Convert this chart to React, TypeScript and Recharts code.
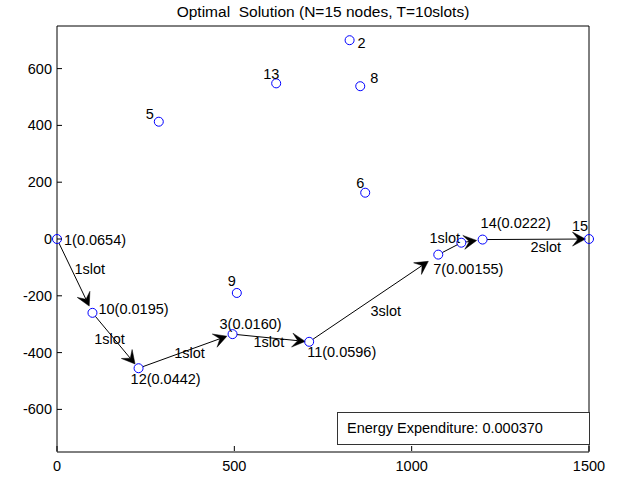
import React from 'react';
import { ScatterChart, Scatter, XAxis, YAxis, ReferenceLine } from 'recharts';

const FONT = '"Liberation Sans", Arial, Helvetica, sans-serif';

// ---- data ----
const nodeIds = [1, 2, 3, 4, 5, 6, 7, 8, 9, 10, 11, 12, 13, 14, 15];
const nodeX = [0, 825, 495, 1140, 287, 869, 1075, 855, 507, 100, 711, 230, 618, 1200, 1500];
const nodeY = [0, 700, -335, -13, 413, 163, -55, 538, -190, -260, -362, -455, 548, -2, 0];
const nodeLabels = [
  '1(0.0654)', '2', '3(0.0160)', '', '5', '6', '7(0.00155)', '8', '9',
  '10(0.0195)', '11(0.0596)', '12(0.0442)', '13', '14(0.0222)', '15',
];
const pathOrder = [1, 10, 12, 3, 11, 7, 4, 14, 15];
const slotLabels = ['1slot', '1slot', '1slot', '1slot', '3slot', '1slot', '', '2slot'];
const xTicks = [0, 500, 1000, 1500];
const yTicks = [-600, -400, -200, 0, 200, 400, 600];
const titleText = 'Optimal  Solution (N=15 nodes, T=10slots)';
const energyText = 'Energy Expenditure: 0.000370';

// ---- styling (pixel offsets for text placement) ----
const labelOffset: Record<number, [number, number]> = {
  1: [7, 1], 2: [8, 3], 3: [-13, -10], 4: [0, 0], 5: [-13, -8], 6: [-9, -10],
  7: [-5, 14], 8: [10, -8], 9: [-9, -12], 10: [6, -4], 11: [-2, 10],
  12: [-8, 11], 13: [-13, -9], 14: [-2, -17], 15: [-17, -13],
};
const hasHead = [true, true, true, true, true, false, true, true];
const endGap = [7.5, 5.5, 6, 4, 12, 4, 6, 3.5];
const slotOffset: [number, number][] = [
  [15, -7], [-6, -2], [4, 2], [-2, 4], [12, 13], [-5, -11], [0, 0], [10, 8],
];

const nodes = nodeIds.map((id, i) => ({ id, x: nodeX[i], y: nodeY[i], label: nodeLabels[i] }));
const byId: Record<number, { x: number; y: number }> = {};
nodes.forEach((n) => (byId[n.id] = n));
const segments = pathOrder.slice(0, -1).map((from, i) => ({
  from: byId[from],
  to: byId[pathOrder[i + 1]],
  label: slotLabels[i],
}));

const textStyle = { fontFamily: FONT, fontSize: 14.5, fill: '#000' } as const;

const NodeShape = (p: any) => {
  const { cx, cy, payload } = p;
  const off = labelOffset[payload.id] || [6, 0];
  return (
    <g>
      <circle cx={cx} cy={cy} r={4.5} fill="none" stroke="#0000ff" strokeWidth={1} />
      {payload.label ? (
        <text x={cx + off[0]} y={cy + off[1] + 5} {...textStyle}>
          {payload.label}
        </text>
      ) : null}
    </g>
  );
};

const makeArrow = (i: number, label: string) => (p: any) => {
  const x1 = Number(p.x1), y1 = Number(p.y1), x2 = Number(p.x2), y2 = Number(p.y2);
  const dx = x2 - x1, dy = y2 - y1;
  const len = Math.hypot(dx, dy) || 1;
  const ux = dx / len, uy = dy / len;
  const nx = -uy, ny = ux;
  const sx = x1 + ux * 4.5, sy = y1 + uy * 4.5;
  const tx = x2 - ux * endGap[i], ty = y2 - uy * endGap[i];
  const L = 13, W = 7, notch = 7.5;
  const bx = tx - ux * L, by = ty - uy * L;
  const pts = [
    [tx, ty],
    [bx + nx * W, by + ny * W],
    [tx - ux * notch, ty - uy * notch],
    [bx - nx * W, by - ny * W],
  ]
    .map((q) => q.join(','))
    .join(' ');
  const ex = hasHead[i] ? tx - ux * notch : tx;
  const ey = hasHead[i] ? ty - uy * notch : ty;
  const mx = (x1 + x2) / 2 + slotOffset[i][0];
  const my = (y1 + y2) / 2 + slotOffset[i][1];
  return (
    <g>
      <line x1={sx} y1={sy} x2={ex} y2={ey} stroke="#000" strokeWidth={1} />
      {hasHead[i] ? <polygon points={pts} fill="#000" stroke="#000" strokeWidth={0.5} /> : null}
      {label ? (
        <text x={mx} y={my + 5} textAnchor="middle" {...textStyle}>
          {label}
        </text>
      ) : null}
    </g>
  );
};

const BottomTick = (p: any) => {
  const { x, payload } = p;
  const y = Number(p.y) - 1;
  return (
    <g>
      <line x1={x} y1={y} x2={x} y2={y - 5} stroke="#000" />
      <text x={x} y={y + 20} textAnchor="middle" {...textStyle}>
        {payload.value}
      </text>
    </g>
  );
};
const TopTick = (p: any) => {
  const { x, y } = p;
  return <line x1={x} y1={y} x2={x} y2={Number(y) + 5} stroke="#000" />;
};
const LeftTick = (p: any) => {
  const { x, y, payload } = p;
  return (
    <g>
      <line x1={x} y1={y} x2={Number(x) + 5} y2={y} stroke="#000" />
      <text x={Number(x) - 5} y={Number(y) + 5} textAnchor="end" {...textStyle}>
        {payload.value}
      </text>
    </g>
  );
};
const RightTick = (p: any) => {
  const { x, y } = p;
  return <line x1={x} y1={y} x2={Number(x) - 5} y2={y} stroke="#000" />;
};

export default function App() {
  return (
    <div style={{ position: 'absolute', left: 0, top: 0, width: 632, height: 481, background: '#fff' }}>
      <ScatterChart width={632} height={481} margin={{ top: 25, right: 42, bottom: 28, left: 56 }}>
        <XAxis
          dataKey="x"
          type="number"
          domain={[0, 1500]}
          ticks={xTicks}
          interval={0}
          height={1}
          tickSize={0}
          tickMargin={0}
          tickLine={false}
          axisLine={{ stroke: '#000' }}
          tick={<BottomTick />}
        />
        <XAxis
          xAxisId="top"
          orientation="top"
          type="number"
          domain={[0, 1500]}
          ticks={xTicks}
          interval={0}
          height={1}
          tickSize={0}
          tickMargin={0}
          tickLine={false}
          axisLine={{ stroke: '#000' }}
          tick={<TopTick />}
        />
        <YAxis
          dataKey="y"
          type="number"
          domain={[-750, 750]}
          ticks={yTicks}
          interval={0}
          width={1}
          tickSize={0}
          tickMargin={0}
          tickLine={false}
          axisLine={{ stroke: '#000' }}
          tick={<LeftTick />}
        />
        <YAxis
          yAxisId="right"
          orientation="right"
          type="number"
          domain={[-750, 750]}
          ticks={yTicks}
          interval={0}
          width={1}
          tickSize={0}
          tickMargin={0}
          tickLine={false}
          axisLine={{ stroke: '#000' }}
          tick={<RightTick />}
        />
        {segments.map((s, i) => (
          <ReferenceLine
            key={i}
            segment={[
              { x: s.from.x, y: s.from.y },
              { x: s.to.x, y: s.to.y },
            ]}
            ifOverflow="visible"
            shape={makeArrow(i, s.label)}
          />
        ))}
        <Scatter data={nodes} shape={NodeShape} isAnimationActive={false} />
      </ScatterChart>
      <div
        style={{
          position: 'absolute', left: 57, top: 0, width: 532, height: 24, lineHeight: '24px',
          textAlign: 'center', fontFamily: FONT, fontSize: 15.5, color: '#000', whiteSpace: 'pre',
        }}
      >
        {titleText}
      </div>
      <div
        style={{
          position: 'absolute', left: 337, top: 412, width: 242, height: 31, border: '1px solid #333',
          background: '#fff', fontFamily: FONT, fontSize: 14.5, color: '#000', lineHeight: '31px',
          paddingLeft: 9, boxSizing: 'content-box', whiteSpace: 'pre',
        }}
      >
        {energyText}
      </div>
    </div>
  );
}
